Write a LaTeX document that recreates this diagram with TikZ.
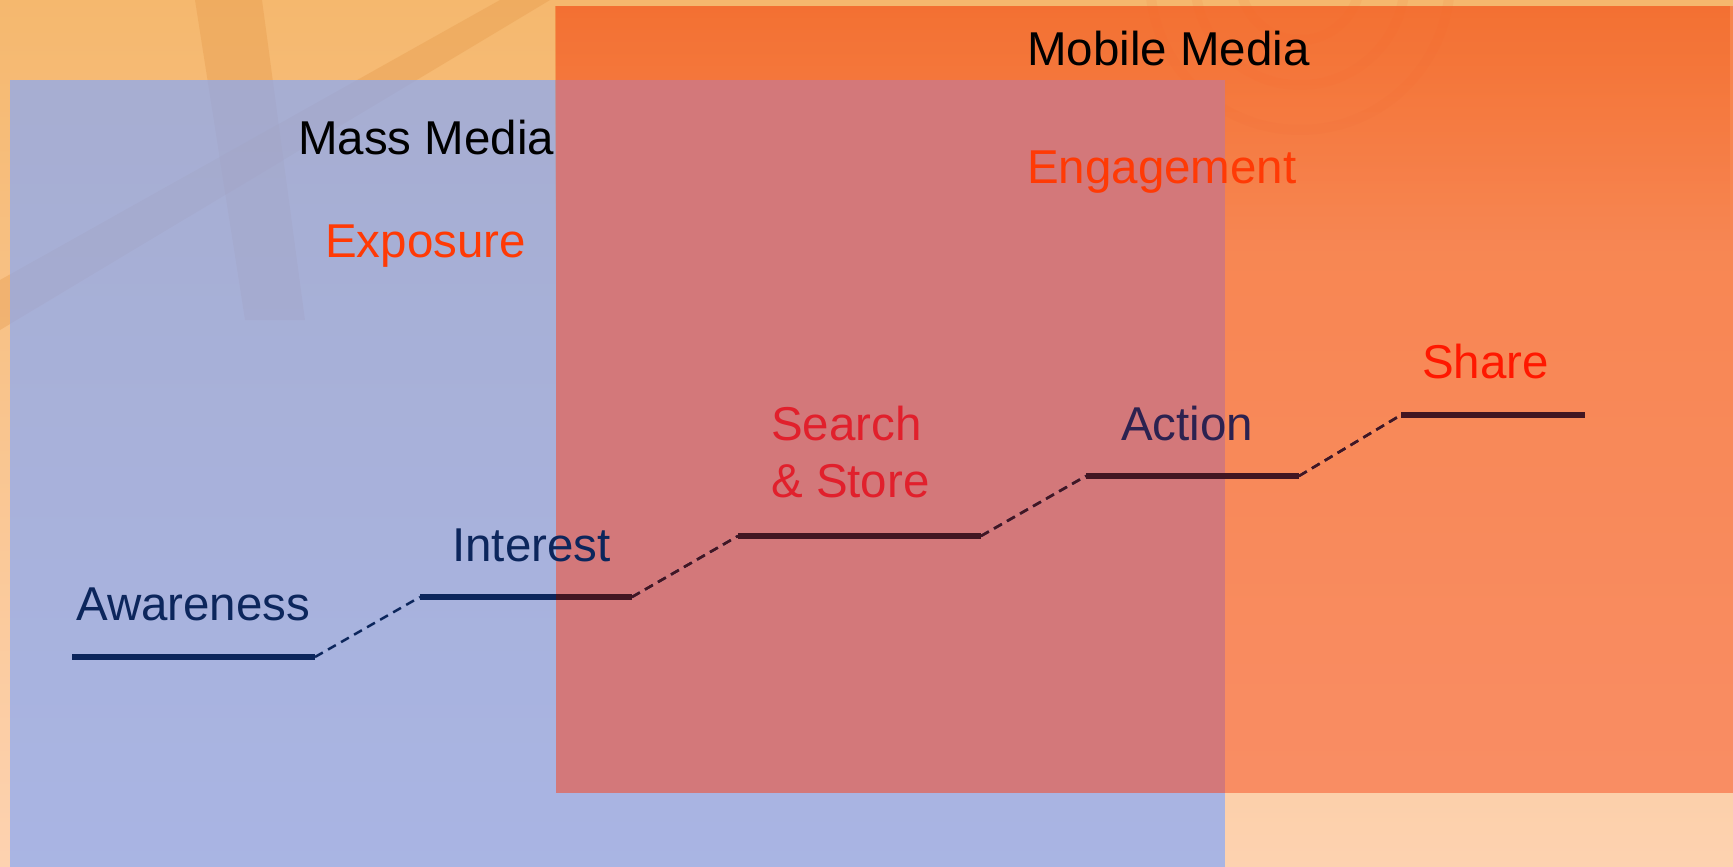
\documentclass[tikz,border=0pt]{standalone}
\usepackage{fontspec}
\setmainfont{Liberation Sans}
\usetikzlibrary{fadings}
\definecolor{bgtop}{RGB}{245,184,110}
\definecolor{bgbot}{RGB}{253,210,176}
\definecolor{stripecol}{RGB}{226,146,66}
\definecolor{massblue}{RGB}{134,169,250}
\definecolor{mobileorange}{RGB}{248,97,53}
\definecolor{overlapcol}{RGB}{211,120,122}
\definecolor{deeporange}{RGB}{240,90,20}
\definecolor{navy}{RGB}{12,38,92}
\definecolor{maroon}{RGB}{66,22,34}
\definecolor{actioncol}{RGB}{44,34,80}
\definecolor{expred}{RGB}{255,58,5}
\definecolor{searchred}{RGB}{225,32,44}
\definecolor{sharered}{RGB}{255,24,0}
\begin{document}
\begin{tikzpicture}[x=1pt,y=-1pt,
  lab/.style={font=\fontsize{47.5}{57}\selectfont, inner sep=0pt, anchor=base west},
  stepline/.style={line width=6pt},
  conn/.style={line width=2.5pt, dash pattern=on 9pt off 6pt},
  stripe/.style={fill=stripecol, opacity=.3}]
\useasboundingbox (0,0) rectangle (1733,867);
% background
\shade[top color=bgtop, bottom color=bgbot] (0,0) rectangle (1733,867);
\fill[stripe] (195,0) -- (262,0) -- (305,320) -- (245,320) -- cycle;
\fill[stripe] (500,0) -- (550,0) -- (0,330) -- (0,280) -- cycle;
\begin{scope}[opacity=.08, line width=10pt, draw=stripecol!70!red]
  \draw (1300,-20) circle[radius=60];
  \draw (1300,-20) circle[radius=105];
  \draw (1300,-20) circle[radius=150];
\end{scope}
% media areas
\fill[massblue, opacity=.7] (10,80) rectangle (1225,867);
\fill[mobileorange, opacity=.6] (556,6) rectangle (1733,793);
\fill[deeporange, opacity=.45, path fading=south] (556,6) rectangle (1733,240);
\fill[overlapcol] (556,80) rectangle (1225,793);
% step coordinates
\coordinate (a1) at (72,657);   \coordinate (a2) at (315,657);
\coordinate (i1) at (420,597);  \coordinate (i2) at (632,597);
\coordinate (s1) at (738,536);  \coordinate (s2) at (981,536);
\coordinate (c1) at (1086,476); \coordinate (c2) at (1299,476);
\coordinate (h1) at (1401,415); \coordinate (h2) at (1585,415);
% steps and connectors
\begin{scope}[draw=navy]
  \draw[stepline] (a1) -- (a2);
  \draw[stepline] (i1) -- (i2);
  \draw[stepline] (s1) -- (s2);
  \draw[stepline] (c1) -- (c2);
  \draw[stepline] (h1) -- (h2);
  \draw[conn] (a2) -- (i1);
  \draw[conn] (i2) -- (s1);
  \draw[conn] (s2) -- (c1);
  \draw[conn] (c2) -- (h1);
\end{scope}
\begin{scope}
  \clip (556,6) rectangle (1733,793);
  \begin{scope}[draw=maroon]
    \draw[stepline] (i1) -- (i2);
    \draw[stepline] (s1) -- (s2);
    \draw[stepline] (c1) -- (c2);
    \draw[stepline] (h1) -- (h2);
    \draw[conn] (i2) -- (s1);
    \draw[conn] (s2) -- (c1);
    \draw[conn] (c2) -- (h1);
  \end{scope}
\end{scope}
% labels
\node[lab] (mobile) at (1027,66) {Mobile Media};
\node[lab, text=expred] (engage) at (1027,183) {Engagement};
\node[lab] (mass) at (298,154) {Mass Media};
\node[lab, text=expred] (expo) at (325,257) {Exposure};
\node[lab, text=navy] (aware) at (76,620) {Awareness};
\node[lab, text=navy] (interest) at (452,561) {Interest};
\node[lab, text=searchred] (search) at (771,440) {\begin{tabular}[t]{@{}l@{}}Search\\\& Store\end{tabular}};
\node[lab, text=actioncol] (action) at (1121,440) {Action};
\node[lab, text=sharered] (share) at (1422,378) {Share};
\end{tikzpicture}
\end{document}
